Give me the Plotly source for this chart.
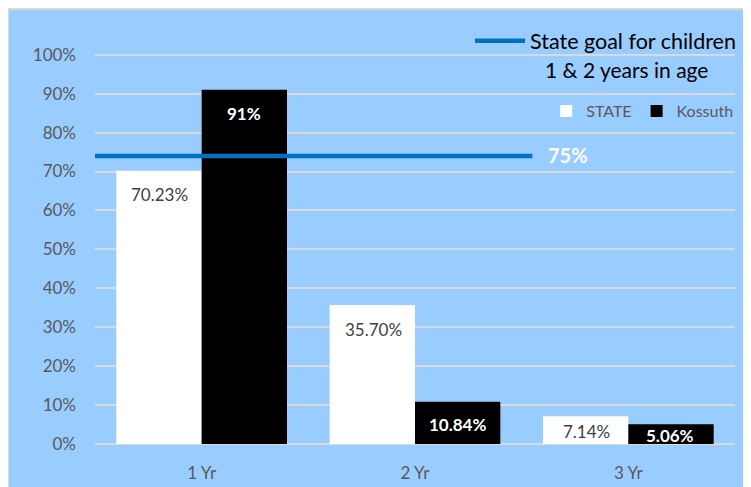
import plotly.graph_objects as go

categories = ["1 Yr", "2 Yr", "3 Yr"]
state_values = [70.23, 35.70, 7.14]
kossuth_values = [91, 10.84, 5.06]
state_labels = ["70.23%", "35.70%", "7.14%"]
kossuth_labels = ["91%", "10.84%", "5.06%"]
goal_value = 74
goal_span = [-0.5, 1.55]
goal_label = "75%"
y_ticks = list(range(0, 101, 10))
y_tick_labels = [f"{v}%" for v in y_ticks]

BG = "#99CCFF"
GRID = "#D9D9D9"
FONT = "Lato"

# the page adds an 8px body margin, so margins are reduced by 8 px
# plot area: 640 px wide, 427 px tall, 3.92 px per percent
PX_PER_PCT = 3.92
Y_MAX = 427 / PX_PER_PCT

fig = go.Figure()
fig.add_trace(go.Bar(x=categories, y=state_values, name="STATE",
                     marker=dict(color="white", line=dict(width=0)),
                     legend="legend2"))
fig.add_trace(go.Bar(x=categories, y=kossuth_values, name="Kossuth",
                     marker=dict(color="black", line=dict(width=0)),
                     legend="legend2"))
fig.add_trace(go.Scatter(x=goal_span, y=[goal_value] * 2, xaxis="x2",
                         mode="lines", name="State goal for children",
                         line=dict(color="#0070C0", width=4.5),
                         legend="legend"))

# bar value labels, a little below the bar top
for i, cat in enumerate(categories):
    for vals, labels, shift, color, bold in [
            (state_values, state_labels, -42, "#404040", False),
            (kossuth_values, kossuth_labels, 42, "white", True)]:
        h = vals[i] * PX_PER_PCT
        ys = -24 if h > 48 else -h / 2 - 1
        fig.add_annotation(x=cat, y=vals[i], text=f"<b>{labels[i]}</b>" if bold else labels[i],
                           showarrow=False, xshift=shift, yshift=ys,
                           font=dict(size=17, color=color, family=FONT))

fig.add_annotation(x=goal_span[1], y=goal_value, xref="x2", yref="y", text=f"<b>{goal_label}</b>",
                   showarrow=False, xanchor="left", xshift=14, yshift=1,
                   font=dict(size=20, color="white", family=FONT))
fig.add_annotation(x=0.831, y=0.883, xref="paper", yref="paper", text="1 & 2 years in age",
                   showarrow=False, xanchor="center", yanchor="middle",
                   font=dict(size=21, color="black", family=FONT))

# outer chart border
fig.add_shape(type="rect", xref="paper", yref="paper", x0=-0.1359, x1=1.3, y0=-0.5, y1=1.0258,
              line=dict(color=GRID, width=2), layer="below")

fig.update_layout(
    width=751, height=487,
    margin=dict(l=87, r=24, t=12, b=48),
    paper_bgcolor=BG, plot_bgcolor=BG,
    barmode="group", bargap=0.2, bargroupgap=0,
    font=dict(family=FONT, color="#595959", size=17),
    xaxis=dict(type="category", range=[-0.5, 2.5], showgrid=False, showline=False,
               ticks="", ticklabelstandoff=17, tickfont=dict(size=17, color="#595959")),
    xaxis2=dict(overlaying="x", range=[-0.5, 2.5], visible=False),
    yaxis=dict(range=[0, Y_MAX], tickvals=y_ticks, ticktext=y_tick_labels,
               gridcolor=GRID, gridwidth=1.5,
               zeroline=True, zerolinecolor=GRID, zerolinewidth=1.5, showline=False,
               ticklabelstandoff=18, tickfont=dict(size=17, color="#595959")),
    legend=dict(x=0.586, y=0.951, xanchor="left", yanchor="middle", orientation="h",
                bgcolor="rgba(0,0,0,0)", font=dict(size=21.5, color="black", family=FONT),
                itemwidth=50),
    legend2=dict(x=0.705, y=0.785, xanchor="left", yanchor="middle", orientation="h",
                 bgcolor="rgba(0,0,0,0)", font=dict(size=16, color="#595959", family=FONT)),
    showlegend=True,
)

fig.write_html("out.html")
